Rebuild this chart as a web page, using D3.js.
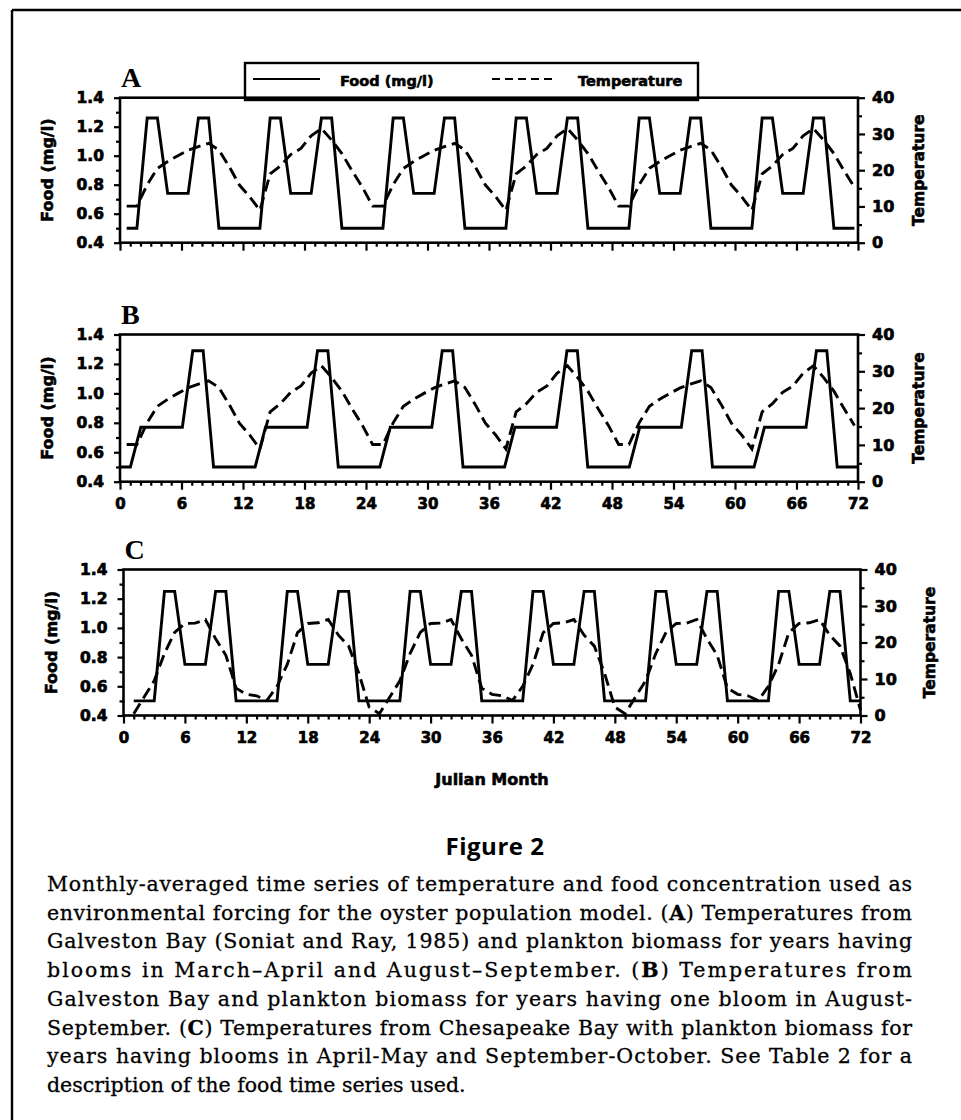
<!DOCTYPE html>
<html><head><meta charset="utf-8">
<script src="https://cdn.jsdelivr.net/npm/d3@7"></script>
<style>body{margin:0;background:#fff}svg{display:block}</style>
</head><body>
<svg id="fig" width="961" height="1120"></svg>
<script>
// ---------------- data ----------------
const monthTicks = [0,6,12,18,24,30,36,42,48,54,60,66,72];
const monthMinorTicks = d3.range(0,73).filter(m => m % 6 !== 0);
const foodTicks = [0.4,0.6,0.8,1.0,1.2,1.4];
const foodMinorTicks = [0.5,0.7,0.9,1.1,1.3];
const tempTicks = [0,10,20,30,40];
const tempMinorTicks = [5,15,25,35];
const panelLetters = ["A","B","C"];
const legendLabels = ["Food (mg/l)","Temperature"];

// Food (mg/l), one value per month, 6 years
const foodA = [
 0.5,0.5,1.26,1.26,0.74,0.74,0.74,1.26,1.26,0.5,0.5,0.5,
 0.5,0.5,1.26,1.26,0.74,0.74,0.74,1.26,1.26,0.5,0.5,0.5,
 0.5,0.5,1.26,1.26,0.74,0.74,0.74,1.26,1.26,0.5,0.5,0.5,
 0.5,0.5,1.26,1.26,0.74,0.74,0.74,1.26,1.26,0.5,0.5,0.5,
 0.5,0.5,1.26,1.26,0.74,0.74,0.74,1.26,1.26,0.5,0.5,0.5,
 0.5,0.5,1.26,1.26,0.74,0.74,0.74,1.26,1.26,0.5,0.5,0.5
];
const foodB = [
 0.5,0.5,0.77,0.77,0.77,0.77,0.77,1.29,1.29,0.5,0.5,0.5,
 0.5,0.5,0.77,0.77,0.77,0.77,0.77,1.29,1.29,0.5,0.5,0.5,
 0.5,0.5,0.77,0.77,0.77,0.77,0.77,1.29,1.29,0.5,0.5,0.5,
 0.5,0.5,0.77,0.77,0.77,0.77,0.77,1.29,1.29,0.5,0.5,0.5,
 0.5,0.5,0.77,0.77,0.77,0.77,0.77,1.29,1.29,0.5,0.5,0.5,
 0.5,0.5,0.77,0.77,0.77,0.77,0.77,1.29,1.29,0.5,0.5,0.5
];
const foodC = [
 0.5,0.5,0.5,1.25,1.25,0.75,0.75,0.75,1.25,1.25,0.5,0.5,
 0.5,0.5,0.5,1.25,1.25,0.75,0.75,0.75,1.25,1.25,0.5,0.5,
 0.5,0.5,0.5,1.25,1.25,0.75,0.75,0.75,1.25,1.25,0.5,0.5,
 0.5,0.5,0.5,1.25,1.25,0.75,0.75,0.75,1.25,1.25,0.5,0.5,
 0.5,0.5,0.5,1.25,1.25,0.75,0.75,0.75,1.25,1.25,0.5,0.5,
 0.5,0.5,0.5,1.25,1.25,0.75,0.75,0.75,1.25,1.25,0.5,0.5
];
// Temperature (deg C), one value per month, 6 years
const tempGalveston = [
 10.1,10.1,16.0,20.5,22.4,24.0,25.5,26.5,27.4,25.6,21.0,15.9,
 12.7, 8.9,19.0,21.2,24.3,26.0,29.5,31.5,28.3,24.6,19.8,15.3,
 10.1,10.1,16.0,20.5,22.4,24.0,25.5,26.5,27.4,25.6,21.0,15.9,
 12.7, 8.9,19.0,21.2,24.3,26.0,29.5,31.5,28.3,24.6,19.8,15.3,
 10.1,10.1,16.0,20.5,22.4,24.0,25.5,26.5,27.4,25.6,21.0,15.9,
 12.7, 8.9,19.0,21.2,24.3,26.0,29.5,31.5,28.3,24.6,19.8,15.3
];
const tempChesapeake = [
 0.5,5.0,9.5,17.0,22.8,25.2,25.3,26.3,21.0,16.5,7.5,5.8,
 5.4,4.1,8.0,14.0,22.7,25.2,25.4,26.3,22.0,19.0,11.5,2.3,
 0.5,5.0,9.5,17.0,22.8,25.2,25.3,26.3,21.0,16.5,7.5,5.8,
 5.4,4.1,8.0,14.0,22.7,25.2,25.4,26.3,22.0,19.0,11.5,2.3,
 0.5,5.0,9.5,17.0,22.8,25.2,25.3,26.3,21.0,16.5,7.5,5.8,
 5.4,4.1,8.0,14.0,22.7,25.2,25.4,26.3,22.0,19.0,11.5,1.5
];
// Julian-month position of the first and last point of each series
const spanGalveston = [0.65, 71.65];
const spanFoodB = [0, 72];
const spanChesapeake = [1, 72];

const captionLines = [
 [["Monthly-averaged time series of temperature and food concentration used as",0]],
 [["environmental forcing for the oyster population model. (",0],["A",1],[") Temperatures from",0]],
 [["Galveston Bay (Soniat and Ray, 1985) and plankton biomass for years having",0]],
 [["blooms in March\u2013April and August\u2013September. (",0],["B",1],[") Temperatures from",0]],
 [["Galveston Bay and plankton biomass for years having one bloom in August-",0]],
 [["September. (",0],["C",1],[") Temperatures from Chesapeake Bay with plankton biomass for",0]],
 [["years having blooms in April-May and September-October. See Table 2 for a",0]],
 [["description of the food time series used.",0]]
];

// ---------------- layout ----------------
const layout = {
 A:{left:120,right:858,top:97.7,bottom:242.7,foodTitleX:47.5,tempTitleX:919,xLabels:false},
 B:{left:120,right:858,top:334.5,bottom:481.7,foodTitleX:47.5,tempTitleX:919,xLabels:true},
 C:{left:123.5,right:860.5,top:569.5,bottom:715.5,foodTitleX:51,tempTitleX:930,xLabels:true}
};
const SANS = "'DejaVu Sans', Verdana, sans-serif";
const svg = d3.select("#fig");

function heavy(sel, w){ return sel.attr("stroke","#000").attr("stroke-width",w).attr("fill","#000"); }

// outer frame (left and top rules)
svg.append("line").attr("x1",12).attr("y1",10).attr("x2",12).attr("y2",1120).attr("stroke","#000").attr("stroke-width",2.4);
svg.append("line").attr("x1",12).attr("y1",10).attr("x2",961).attr("y2",10).attr("stroke","#000").attr("stroke-width",2.4);

function styleAxis(g, size){
  g.select(".domain").remove();
  g.selectAll(".tick line").attr("stroke","#000").attr("stroke-width",2.2);
  const t = g.selectAll(".tick text").style("font-family",SANS)
   .style("font-weight","bold").style("font-size",size+"px");
  heavy(t,0.7);
}

function drawPanel(key, letter, food, temp, foodSpan, tempSpan){
  const L = layout[key];
  const x = d3.scaleLinear().domain([0,72]).range([L.left,L.right]);
  const yF = d3.scaleLinear().domain([0.4,1.4]).range([L.bottom,L.top]);
  const yT = d3.scaleLinear().domain([0,40]).range([L.bottom,L.top]);
  const idxF = d3.scaleLinear().domain([0,food.length-1]).range(foodSpan);
  const idxT = d3.scaleLinear().domain([0,temp.length-1]).range(tempSpan);
  const g = svg.append("g");

  // axes
  const bMinor = g.append("g").attr("transform",`translate(0,${L.bottom})`)
    .call(d3.axisBottom(x).tickValues(monthMinorTicks).tickSize(4).tickSizeOuter(0).tickFormat(""));
  styleAxis(bMinor,15);
  const bMajor = g.append("g").attr("transform",`translate(0,${L.bottom})`)
    .call(d3.axisBottom(x).tickValues(monthTicks).tickSize(8).tickSizeOuter(0).tickPadding(9)
      .tickFormat(L.xLabels ? d3.format("d") : ""));
  styleAxis(bMajor,15);

  const lMinor = g.append("g").attr("transform",`translate(${L.left},0)`)
    .call(d3.axisLeft(yF).tickValues(foodMinorTicks).tickSize(4).tickSizeOuter(0).tickFormat(""));
  styleAxis(lMinor,15);
  const lMajor = g.append("g").attr("transform",`translate(${L.left},0)`)
    .call(d3.axisLeft(yF).tickValues(foodTicks).tickSize(6).tickSizeOuter(0).tickPadding(10).tickFormat(d3.format(".1f")));
  styleAxis(lMajor,15.5);

  const rMinor = g.append("g").attr("transform",`translate(${L.right},0)`)
    .call(d3.axisRight(yT).tickValues(tempMinorTicks).tickSize(4).tickSizeOuter(0).tickFormat(""));
  styleAxis(rMinor,15);
  const rMajor = g.append("g").attr("transform",`translate(${L.right},0)`)
    .call(d3.axisRight(yT).tickValues(tempTicks).tickSize(7).tickSizeOuter(0).tickPadding(7).tickFormat(d3.format("d")));
  styleAxis(rMajor,16);

  // plot frame
  g.append("rect").attr("x",L.left).attr("y",L.top).attr("width",L.right-L.left).attr("height",L.bottom-L.top)
    .attr("fill","none").attr("stroke","#000").attr("stroke-width",2.6);

  // series
  const lineF = d3.line().x((d,i)=>x(idxF(i))).y(d=>yF(d));
  const lineT = d3.line().x((d,i)=>x(idxT(i))).y(d=>yT(d));
  g.append("path").datum(temp).attr("d",lineT).attr("fill","none").attr("stroke","#000")
    .attr("stroke-width",2.9).attr("stroke-dasharray","12,6");
  g.append("path").datum(food).attr("d",lineF).attr("fill","none").attr("stroke","#000")
    .attr("stroke-width",2.9).attr("stroke-linejoin","miter");

  // titles
  const cy = (L.top+L.bottom)/2;
  heavy(g.append("text").attr("transform",`translate(${L.foodTitleX},${cy}) rotate(-90)`).attr("dy","0.35em")
    .attr("text-anchor","middle").style("font-family",SANS).style("font-weight","bold").style("font-size","16px")
    .text("Food (mg/l)"),0.6);
  heavy(g.append("text").attr("transform",`translate(${L.tempTitleX},${cy}) rotate(-90)`).attr("dy","0.35em")
    .attr("text-anchor","middle").style("font-family",SANS).style("font-weight","bold").style("font-size","15.5px")
    .text("Temperature"),0.6);
  g.append("text").attr("x",L.left+1).attr("y",L.top-11)
    .style("font-family","'Liberation Serif','Times New Roman',serif").style("font-weight","bold").style("font-size","28px")
    .text(letter);
  return {x, yF, yT};
}

drawPanel("A", panelLetters[0], foodA, tempGalveston, spanGalveston, spanGalveston);
drawPanel("B", panelLetters[1], foodB, tempGalveston, spanFoodB, spanGalveston);
drawPanel("C", panelLetters[2], foodC, tempChesapeake, spanChesapeake, spanChesapeake);

// x axis title
heavy(svg.append("text").attr("x",(layout.C.left+layout.C.right)/2).attr("y",785).attr("text-anchor","middle")
  .style("font-family",SANS).style("font-weight","bold").style("font-size","16px").text("Julian Month"),0.6);

// legend (panel A)
const lg = svg.append("g");
lg.append("rect").attr("x",245).attr("y",63).attr("width",453).attr("height",37)
  .attr("fill","none").attr("stroke","#000").attr("stroke-width",2.4);
lg.append("line").attr("x1",253).attr("x2",320).attr("y1",79).attr("y2",79).attr("stroke","#000").attr("stroke-width",2.2);
heavy(lg.append("text").attr("x",340).attr("y",86).style("font-family",SANS).style("font-weight","bold").style("font-size","14.5px").text(legendLabels[0]),0.6);
lg.append("line").attr("x1",492).attr("x2",557).attr("y1",79).attr("y2",79).attr("stroke","#000").attr("stroke-width",2.2).attr("stroke-dasharray","8,5");
heavy(lg.append("text").attr("x",578).attr("y",86).style("font-family",SANS).style("font-weight","bold").style("font-size","14.5px").text(legendLabels[1]),0.6);

// figure label
svg.append("text").attr("x",495).attr("y",855).attr("text-anchor","middle")
  .style("font-family","'Open Sans',sans-serif").style("font-weight","bold").style("font-size","24px")
  .style("letter-spacing","0.5px").text("Figure 2");

// caption (justified)
captionLines.forEach((segs,i)=>{
  const t = svg.append("text").attr("x",47).attr("y",891 + i*28.7)
    .style("font-family","'DejaVu Serif',serif").style("font-size","20.5px")
    .attr("fill","#000").attr("stroke","#000").attr("stroke-width",0.3);
  if(i < captionLines.length-1) t.attr("textLength",865).attr("lengthAdjust","spacing");
  segs.forEach(([s,b])=>{ t.append("tspan").style("font-weight", b ? "bold":"normal").text(s); });
});
</script>
</body></html>
